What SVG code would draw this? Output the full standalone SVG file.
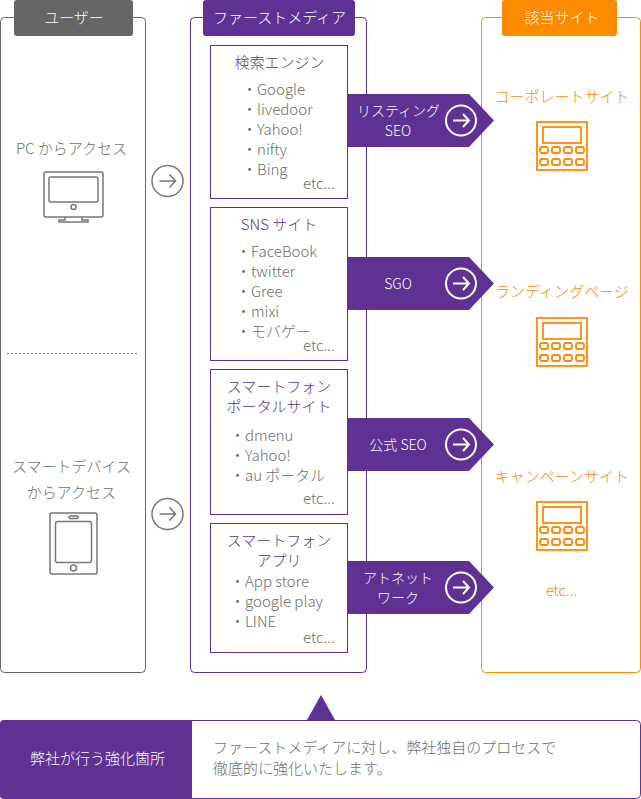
<svg xmlns="http://www.w3.org/2000/svg" xmlns:xlink="http://www.w3.org/1999/xlink" width="641" height="799" viewBox="0 0 641 799">
<style>
text{font-family:"Noto Sans CJK JP","Noto Sans",sans-serif;font-weight:300;font-size:15px;fill:#6e6e6e}
.m{text-anchor:middle}
.w{fill:#fff}
.p{fill:#5e3192}
.o{fill:#ff8400}
.s14{font-size:14px}
.s15{font-size:15px}
.panel{fill:#fff;stroke-width:1}
.inner{fill:#fff;stroke:#5e3192;stroke-width:1}
.band{fill:#5e3192}
.ic{fill:none;stroke-width:1.500}
</style>
<defs>
<g id="circW"><circle r="15" fill="none" stroke="#fff" stroke-width="2"/><path d="M-8 0H8M2 -6.500L8 0L2 6.500" fill="none" stroke="#fff" stroke-width="2"/></g>
<g id="circG"><circle r="15.500" fill="none" stroke="#777" stroke-width="1.500"/><path d="M-8 0H8M2 -6.500L8 0L2 6.500" fill="none" stroke="#777" stroke-width="1.500"/></g>
<g id="calc" fill="none" stroke="#ff8a00" stroke-width="1.800">
<rect x="0" y="0" width="50" height="48"/><rect x="6" y="5" width="38" height="16"/>
<rect x="3" y="25" width="8" height="6" rx="2"/><rect x="15" y="25" width="8" height="6" rx="2"/><rect x="27" y="25" width="8" height="6" rx="2"/><rect x="39" y="25" width="8" height="6" rx="2"/>
<rect x="3" y="37" width="8" height="6" rx="2"/><rect x="15" y="37" width="8" height="6" rx="2"/><rect x="27" y="37" width="8" height="6" rx="2"/><rect x="39" y="37" width="8" height="6" rx="2"/>
</g>
</defs>
<g id="user-panel">
<rect class="panel" x="0.500" y="17.500" width="145" height="655" rx="4" stroke="#666"/>
<rect x="14" y="0" width="119" height="36" rx="3" fill="#666"/>
<text class="m w" x="74" y="23">ユーザー</text>
<text class="m" x="71.500" y="154">PC からアクセス</text>
<g class="ic" stroke="#777"><rect x="44" y="172" width="59" height="45" rx="2"/><rect x="49" y="177" width="49" height="25" rx="2"/><circle cx="73.500" cy="207" r="2.500"/><path d="M65 217V220H59V222H88V220H82V217"/></g>
<line x1="7" y1="353.500" x2="138" y2="353.500" stroke="#777" stroke-dasharray="2 2"/>
<text class="m" x="71.500" y="472">スマートデバイス</text>
<text class="m" x="71.500" y="498">からアクセス</text>
<g class="ic" stroke="#777"><rect x="50" y="513" width="47" height="61" rx="2"/><rect x="55.500" y="521.500" width="36" height="41" rx="2"/><rect x="69" y="516" width="9" height="2.500" rx="1"/><circle cx="73.500" cy="568" r="3"/></g>
</g>
<g id="media-panel">
<rect class="panel" x="190.500" y="17.500" width="176" height="655" rx="4" stroke="#5e3192"/>
<rect x="203" y="0" width="152" height="36" rx="3" fill="#5e3192"/>
<text class="m w" x="279.500" y="23">ファーストメディア</text>
</g>
<g id="site-panel">
<rect class="panel" x="481.500" y="17.500" width="159" height="655" rx="4" stroke="#ff8a00"/>
<rect x="502" y="0" width="115" height="36" rx="3" fill="#ff8a00"/>
<text class="m w" x="562" y="23">該当サイト</text>
</g>
<g id="connectors">
<use xlink:href="#circG" x="167.500" y="181"/>
<use xlink:href="#circG" x="167.500" y="514"/>
<path class="band" d="M347 94H469L494 120.500L469 147H347Z"/>
<path class="band" d="M347 257H469L494 283.500L469 310H347Z"/>
<path class="band" d="M347 418H469L494 444.500L469 471H347Z"/>
<path class="band" d="M347 561H469L494 587.500L469 614H347Z"/>
<use xlink:href="#circW" x="461" y="120.500"/>
<use xlink:href="#circW" x="461" y="283.500"/>
<use xlink:href="#circW" x="461" y="444.500"/>
<use xlink:href="#circW" x="461" y="587.500"/>
<path d="M307 720L321 695L335 720Z" fill="#5e3192"/>
</g>
<g id="search">
<rect class="inner" x="210.500" y="45.500" width="137" height="153"/>
<text class="m p" x="279.500" y="68">検索エンジン</text>
<text x="242" y="95">・Google</text><text x="242" y="115">・livedoor</text><text x="242" y="135">・Yahoo!</text><text x="242" y="155">・nifty</text><text x="242" y="175">・Bing</text>
<text x="303" y="189">etc...</text>
</g>
<g id="sns">
<rect class="inner" x="210.500" y="207.500" width="137" height="153"/>
<text class="m p" x="279" y="230">SNS サイト</text>
<text x="236" y="257">・FaceBook</text><text x="236" y="277">・twitter</text><text x="236" y="297">・Gree</text><text x="236" y="317">・mixi</text><text x="236" y="337">・モバゲー</text>
<text x="303" y="351">etc...</text>
</g>
<g id="portal">
<rect class="inner" x="210.500" y="369.500" width="137" height="145"/>
<text class="m p" x="279" y="392">スマートフォン</text><text class="m p" x="279" y="412">ポータルサイト</text>
<text x="230" y="441">・dmenu</text><text x="230" y="461">・Yahoo!</text><text x="230" y="481">・au ポータル</text>
<text x="303" y="504">etc...</text>
</g>
<g id="apps">
<rect class="inner" x="210.500" y="523.500" width="137" height="129"/>
<text class="m p" x="279" y="546">スマートフォン</text><text class="m p" x="279" y="566">アプリ</text>
<text x="230" y="587">・App store</text><text x="230" y="607">・google play</text><text x="230" y="627">・LINE</text>
<text x="303" y="643">etc...</text>
</g>
<g id="labels">
<text class="m w s14" x="398.500" y="116">リスティング</text><text class="m w s14" x="398" y="136">SEO</text>
<text class="m w s14" x="398" y="289">SGO</text>
<text class="m w s14" x="398" y="450">公式 SEO</text>
<text class="m w s14" x="398" y="583">アトネット</text><text class="m w s14" x="398" y="603">ワーク</text>
</g>
<g id="corporate"><text class="m o" x="562" y="102">コーポレートサイト</text><use xlink:href="#calc" x="537" y="122"/></g>
<g id="landing"><text class="m o" x="562" y="297" textLength="134">ランディングページ</text><use xlink:href="#calc" x="537" y="318"/></g>
<g id="campaign"><text class="m o" x="562" y="482">キャンペーンサイト</text><use xlink:href="#calc" x="537" y="502"/></g>
<text class="m o" x="561.500" y="596">etc...</text>
<g id="note">
<rect x="0.500" y="720.500" width="640" height="78" rx="4" fill="#fff" stroke="#5e3192"/>
<path d="M4 720H192V799H4Q0 799 0 795V724Q0 720 4 720Z" fill="#5e3192"/>
<text class="m w" x="97.500" y="764">弊社が行う強化箇所</text>
<text x="213" y="753">ファーストメディアに対し、弊社独自のプロセスで</text>
<text x="213" y="774">徹底的に強化いたします。</text>
</g>
</svg>
